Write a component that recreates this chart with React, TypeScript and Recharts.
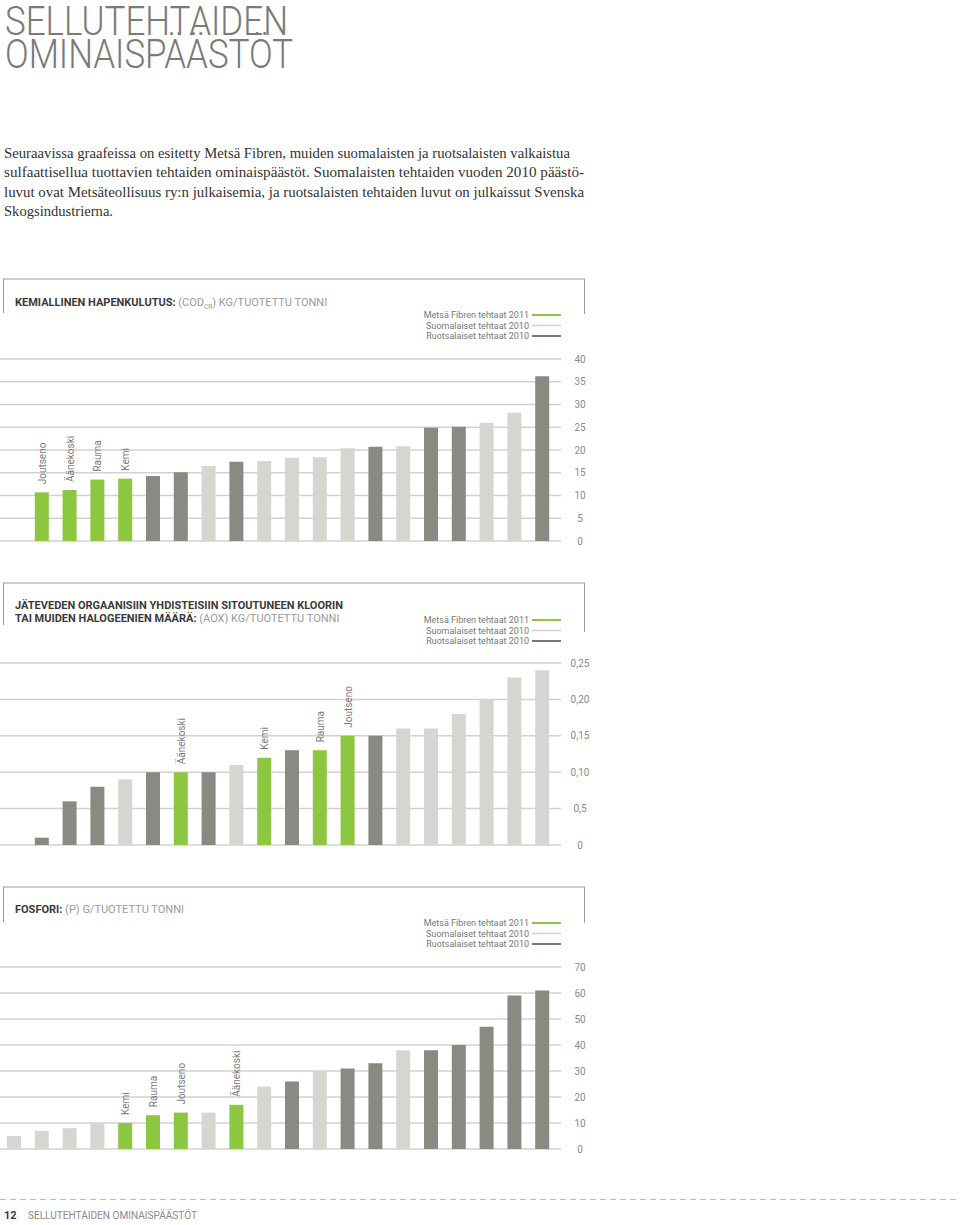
import { BarChart, Bar, XAxis, YAxis, CartesianGrid, Cell, LabelList } from 'recharts';

const FONT = 'Roboto, "Noto Sans", sans-serif';
const SERIF = '"Liberation Serif", "DejaVu Serif", serif';
const GREEN = '#8dc63f';
const DARK = '#8a8a82';
const LIGHT = '#d6d6d1';
const colorOf: Record<string, string> = { g: GREEN, d: DARK, l: LIGHT };

// kemiallinen hapenkulutus (COD) kg/t
const codValues = [null, 10.7, 11.2, 13.5, 13.7, 14.3, 15.1, 16.5, 17.4, 17.6, 18.3, 18.4, 20.4, 20.7, 20.8, 24.9, 25.1, 26.0, 28.2, 36.2];
const codKinds = ['', 'g', 'g', 'g', 'g', 'd', 'd', 'l', 'd', 'l', 'l', 'l', 'l', 'd', 'l', 'd', 'd', 'l', 'l', 'd'];
const codLabels = ['', 'Joutseno', 'Äänekoski', 'Rauma', 'Kemi', '', '', '', '', '', '', '', '', '', '', '', '', '', '', ''];
const codTicks = [0, 5, 10, 15, 20, 25, 30, 35, 40];
const codTickLabels = ['0', '5', '10', '15', '20', '25', '30', '35', '40'];

// AOX kg/t
const aoxValues = [null, 0.01, 0.06, 0.08, 0.09, 0.10, 0.10, 0.10, 0.11, 0.12, 0.13, 0.13, 0.15, 0.15, 0.16, 0.16, 0.18, 0.20, 0.23, 0.24];
const aoxKinds = ['', 'd', 'd', 'd', 'l', 'd', 'g', 'd', 'l', 'g', 'd', 'g', 'g', 'd', 'l', 'l', 'l', 'l', 'l', 'l'];
const aoxLabels = ['', '', '', '', '', '', 'Äänekoski', '', '', 'Kemi', '', 'Rauma', 'Joutseno', '', '', '', '', '', '', ''];
const aoxTicks = [0, 0.05, 0.1, 0.15, 0.2, 0.25];
const aoxTickLabels = ['0', '0,5', '0,10', '0,15', '0,20', '0,25'];

// fosfori (P) g/t
const pValues = [5, 7, 8, 10, 10, 13, 14, 14, 17, 24, 26, 30, 31, 33, 38, 38, 40, 47, 59, 61];
const pKinds = ['l', 'l', 'l', 'l', 'g', 'g', 'g', 'l', 'g', 'l', 'd', 'l', 'd', 'd', 'l', 'd', 'd', 'd', 'd', 'd'];
const pLabels = ['', '', '', '', 'Kemi', 'Rauma', 'Joutseno', '', 'Äänekoski', '', '', '', '', '', '', '', '', '', '', ''];
const pTicks = [0, 10, 20, 30, 40, 50, 60, 70];
const pTickLabels = ['0', '10', '20', '30', '40', '50', '60', '70'];

const legendItems = [
  { name: 'Metsä Fibren tehtaat 2011', color: GREEN, w: 2 },
  { name: 'Suomalaiset tehtaat 2010', color: '#d0d0cc', w: 1.5 },
  { name: 'Ruotsalaiset tehtaat 2010', color: '#77776f', w: 2 },
];

function buildRows(values: (number | null)[], kinds: string[], labels: string[]) {
  return values.map((v, i) => ({ slot: i, value: v, kind: kinds[i], label: labels[i] }));
}

const BarLabel = (props: any) => {
  const { x, y, width, value } = props;
  if (!value) return null;
  const cx = x + width / 2 + 4;
  const cy = y - 8;
  return (
    <text x={cx} y={cy} transform={`rotate(-90, ${cx}, ${cy})`} fontSize={10} fill='#7a7a7a' fontFamily={FONT}>
      {value}
    </text>
  );
};

function Panel(props: any) {
  const { plotTop, title, frameLeft, frameRight, legendTop, rows, ticks, tickLabels } = props;
  const head = plotTop - 85;
  return (
    <>
      <svg style={{ position: 'absolute', left: 0, top: head }} width={600} height={85}>
        <line x1={3} y1={5} x2={585} y2={5} stroke='#9a9a9a' strokeWidth={1} />
        <line x1={3.5} y1={5} x2={3.5} y2={5 + frameLeft} stroke='#9a9a9a' strokeWidth={1} />
        <line x1={584.5} y1={5} x2={584.5} y2={5 + frameRight} stroke='#9a9a9a' strokeWidth={1} />
        {title}
        {legendItems.map((it, i) => {
          const cy = legendTop + i * 10.5;
          return (
            <g key={it.name}>
              <text x={529} y={cy + 3.3} textAnchor='end' fontSize={9} fill='#777' fontFamily={FONT}>
                {it.name}
              </text>
              <line x1={532} y1={cy} x2={561} y2={cy} stroke={it.color} strokeWidth={it.w} />
            </g>
          );
        })}
      </svg>
      <div style={{ position: 'absolute', left: 0, top: plotTop - 10 }}>
        <BarChart width={600} height={197} data={rows} margin={{ top: 10, right: 0, bottom: 5, left: 0 }}>
          <CartesianGrid vertical={false} stroke='#d2d2d2' strokeWidth={1.5} />
          <XAxis dataKey='slot' type='category' height={0} tick={false} tickLine={false}
            axisLine={{ stroke: '#8a8a86', strokeWidth: 2 }} padding={{ left: 0, right: 5 }} />
          <YAxis orientation='right' width={39} domain={[ticks[0], ticks[ticks.length - 1]]} ticks={ticks}
            axisLine={false} tickLine={false} tickSize={0} interval={0}
            tick={(tp: any) => (
              <text x={580} y={tp.y + 3.5} textAnchor='middle' fontSize={10} fill='#8a8a8a' fontFamily={FONT}>
                {tickLabels[tp.index]}
              </text>
            )} />
          <Bar dataKey='value' barSize={14} isAnimationActive={false}>
            {rows.map((r: any) => (
              <Cell key={r.slot} fill={colorOf[r.kind] || LIGHT} />
            ))}
            <LabelList dataKey='label' content={BarLabel} />
          </Bar>
        </BarChart>
      </div>
    </>
  );
}

const titleStyle = { fontFamily: FONT, fontSize: 11 };

export default function App() {
  const codTitle = (
    <text x={15} y={32} {...titleStyle}>
      <tspan fontWeight='bold' fill='#3a3a3a'>KEMIALLINEN HAPENKULUTUS:</tspan>
      <tspan fill='#9a9a9a'> (COD</tspan>
      <tspan fill='#9a9a9a' fontSize={6.5} dy={3}>CR</tspan>
      <tspan fill='#9a9a9a' dy={-3}>) KG/TUOTETTU TONNI</tspan>
    </text>
  );
  const aoxTitle = (
    <g {...titleStyle}>
      <text x={15} y={31}>
        <tspan fontWeight='bold' fill='#3a3a3a'>JÄTEVEDEN ORGAANISIIN YHDISTEISIIN SITOUTUNEEN KLOORIN</tspan>
      </text>
      <text x={15} y={44}>
        <tspan fontWeight='bold' fill='#3a3a3a'>TAI MUIDEN HALOGEENIEN MÄÄRÄ:</tspan>
        <tspan fill='#9a9a9a'> (AOX) KG/TUOTETTU TONNI</tspan>
      </text>
    </g>
  );
  const pTitle = (
    <text x={15} y={31} {...titleStyle}>
      <tspan fontWeight='bold' fill='#3a3a3a'>FOSFORI:</tspan>
      <tspan fill='#9a9a9a'> (P) G/TUOTETTU TONNI</tspan>
    </text>
  );

  return (
    <div style={{ position: 'absolute', left: 0, top: 0, width: 960, height: 1225, background: '#fff', overflow: 'hidden' }}>
      <svg style={{ position: 'absolute', left: 0, top: 0 }} width={960} height={230}>
        <g fontFamily={FONT} fontWeight={300} fill='#7a7a7a' fontSize={40}>
          <text x={5} y={35} textLength={283} lengthAdjust='spacingAndGlyphs'>SELLUTEHTAIDEN</text>
          <text x={5} y={68} textLength={288} lengthAdjust='spacingAndGlyphs'>OMINAISPÄÄSTÖT</text>
        </g>
        <g fontFamily={SERIF} fontSize={15.5} fill='#333'>
          <text x={4} y={158} textLength={566} lengthAdjust='spacingAndGlyphs'>
            Seuraavissa graafeissa on esitetty Metsä Fibren, muiden suomalaisten ja ruotsalaisten valkaistua
          </text>
          <text x={4} y={177} textLength={580} lengthAdjust='spacingAndGlyphs'>
            sulfaattisellua tuottavien tehtaiden ominaispäästöt. Suomalaisten tehtaiden vuoden 2010 päästö-
          </text>
          <text x={4} y={197} textLength={580} lengthAdjust='spacingAndGlyphs'>
            luvut ovat Metsäteollisuus ry:n julkaisemia, ja ruotsalaisten tehtaiden luvut on julkaissut Svenska
          </text>
          <text x={4} y={216} textLength={109} lengthAdjust='spacingAndGlyphs'>
            Skogsindustrierna.
          </text>
        </g>
      </svg>

      <Panel plotTop={359} title={codTitle} frameLeft={34} frameRight={35} legendTop={41}
        rows={buildRows(codValues, codKinds, codLabels)} ticks={codTicks} tickLabels={codTickLabels} />
      <Panel plotTop={663} title={aoxTitle} frameLeft={42} frameRight={49} legendTop={42}
        rows={buildRows(aoxValues, aoxKinds, aoxLabels)} ticks={aoxTicks} tickLabels={aoxTickLabels} />
      <Panel plotTop={967} title={pTitle} frameLeft={35} frameRight={36} legendTop={41}
        rows={buildRows(pValues, pKinds, pLabels)} ticks={pTicks} tickLabels={pTickLabels} />

      <svg style={{ position: 'absolute', left: 0, top: 1190 }} width={960} height={35}>
        <line x1={0} y1={9.5} x2={960} y2={9.5} stroke='#bdbdbd' strokeWidth={1} strokeDasharray='6 4' />
        <text x={4} y={29} fontFamily={FONT} fontSize={11} fontWeight='bold' fill='#3a3a3a'>12</text>
        <text x={28} y={29} fontFamily={FONT} fontSize={11} fill='#8a8a8a' textLength={169} lengthAdjust='spacingAndGlyphs'>
          SELLUTEHTAIDEN OMINAISPÄÄSTÖT
        </text>
      </svg>
    </div>
  );
}
